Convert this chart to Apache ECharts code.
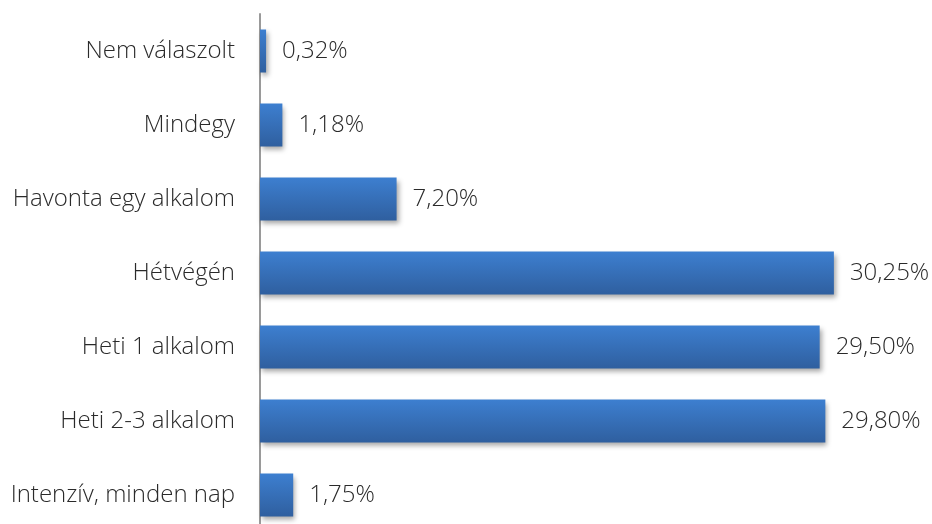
<!DOCTYPE html>
<html>
<head>
<meta charset="utf-8">
<script src="https://cdn.jsdelivr.net/npm/echarts@6/dist/echarts.min.js"></script>
<style>
  html, body { margin: 0; padding: 0; background: #fff; }
  #chart { width: 932px; height: 524px; }
</style>
</head>
<body>
<div id="chart"></div>
<script>
// kategóriák alulról felfelé (ECharts category y tengely)
const categories = [
  'Intenzív, minden nap',
  'Heti 2-3 alkalom',
  'Heti 1 alkalom',
  'Hétvégén',
  'Havonta egy alkalom',
  'Mindegy',
  'Nem válaszolt'
];
const values = [1.75, 29.80, 29.50, 30.25, 7.20, 1.18, 0.32];

const chart = echarts.init(document.getElementById('chart'));

const option = {
  animation: false,
  textStyle: { fontFamily: 'Open Sans' },
  grid: {
    left: 260,
    top: 14,
    width: 664,
    height: 518,
    outerBoundsMode: 'none'
  },
  xAxis: {
    type: 'value',
    min: 0,
    max: 35,
    show: false
  },
  yAxis: {
    type: 'category',
    data: categories,
    axisLine: { show: true, lineStyle: { color: '#9a9a9a', width: 2 } },
    axisTick: { show: false },
    axisLabel: {
      color: '#2a2a2a',
      fontSize: 24,
      fontWeight: 300,
      margin: 25
    }
  },
  series: [{
    type: 'bar',
    data: values,
    barWidth: 43,
    itemStyle: {
      color: new echarts.graphic.LinearGradient(0, 0, 0, 1, [
        { offset: 0, color: '#3d7fd0' },
        { offset: 1, color: '#2f5f9f' }
      ]),
      shadowColor: 'rgba(0,0,0,0.35)',
      shadowBlur: 5,
      shadowOffsetX: 2,
      shadowOffsetY: 3
    },
    label: {
      show: true,
      position: 'right',
      distance: 16,
      color: '#2a2a2a',
      fontSize: 24,
      fontWeight: 300,
      formatter: p => p.value.toFixed(2).replace('.', ',') + '%'
    }
  }]
};

chart.setOption(option);
</script>
</body>
</html>
